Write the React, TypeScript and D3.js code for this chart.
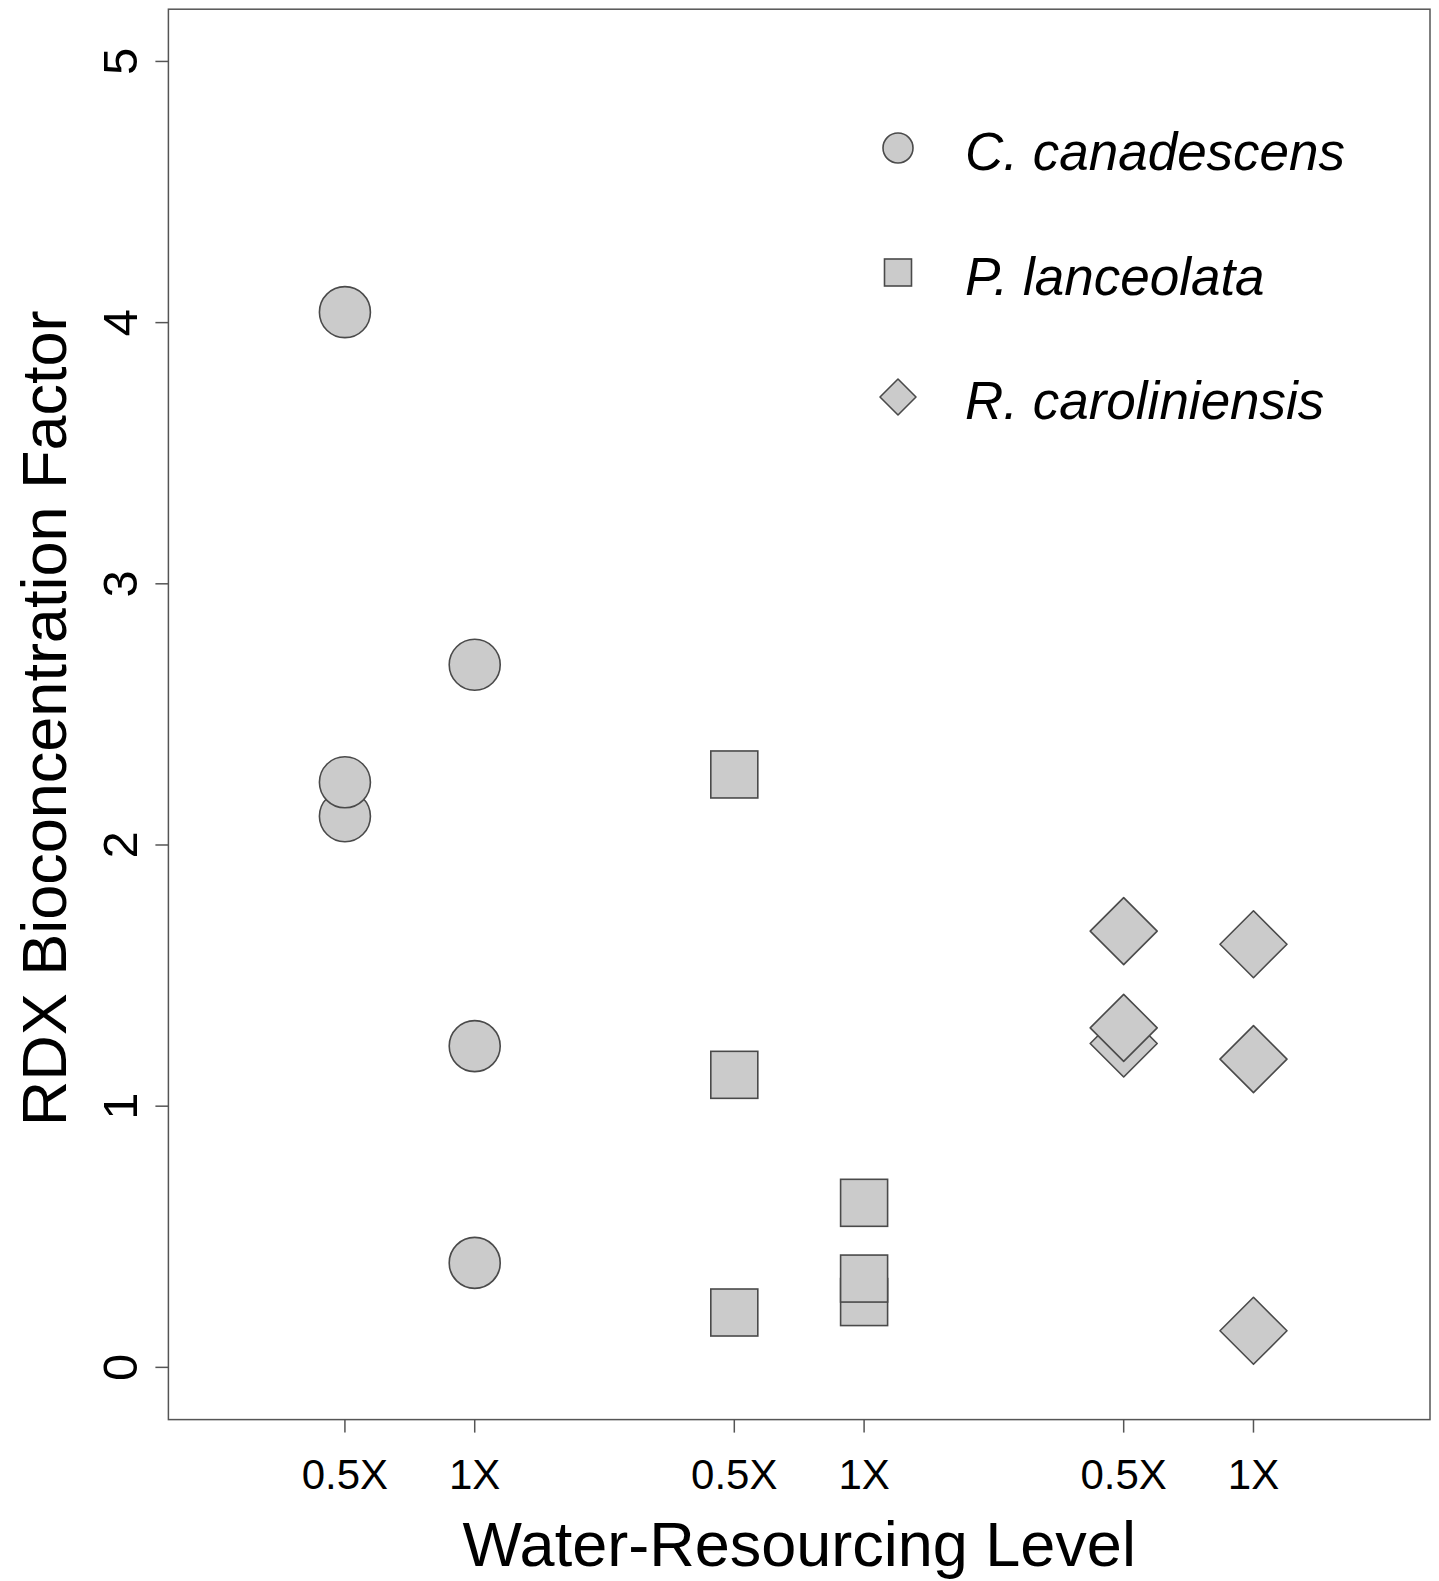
import React from 'react'
import * as d3 from 'd3'

// tick positions and labels along the x axis
const xPositions = [1, 2, 4, 5, 7, 8]
const xLabels = ['0.5X', '1X', '0.5X', '1X', '0.5X', '1X']
const yTicks = [0, 1, 2, 3, 4, 5]

// RDX bioconcentration factor
const canadescensHalf = [4.04, 2.11, 2.24]
const canadescensFull = [2.69, 1.23, 0.4]
const lanceolataHalf = [2.27, 1.12, 0.21]
const lanceolataFull = [0.63, 0.25, 0.34]
const caroliniensisHalf = [1.67, 1.24, 1.3]
const caroliniensisFull = [1.62, 1.18, 0.14]

const species = ['C. canadescens', 'P. lanceolata', 'R. caroliniensis']

const W = 1439
const H = 1581
const fill = '#cbcbcb'
const stroke = '#4a4a4a'
const font = 'Liberation Sans, Arial, Helvetica, sans-serif'

function Marker({shape, x, y, size}: {shape: string; x: number; y: number; size: number}) {
  if (shape === 'circle') return <circle cx={x} cy={y} r={size} fill={fill} stroke={stroke} strokeWidth={1.6} />
  if (shape === 'square')
    return <rect x={x - size} y={y - size} width={size * 2} height={size * 2} fill={fill} stroke={stroke} strokeWidth={1.6} />
  const d = `M${x},${y - size}L${x + size},${y}L${x},${y + size}L${x - size},${y}Z`
  return <path d={d} fill={fill} stroke={stroke} strokeWidth={1.6} strokeLinejoin="round" />
}

export default function App() {
  const x = d3.scaleLinear().domain([-0.36, 9.36]).range([168.4, 1430])
  const y = d3.scaleLinear().domain([-0.2, 5.2]).range([1419.6, 9.2])

  const groups = [
    {shape: 'circle', size: 25.5, pos: xPositions[0], vals: canadescensHalf},
    {shape: 'circle', size: 25.5, pos: xPositions[1], vals: canadescensFull},
    {shape: 'square', size: 23.5, pos: xPositions[2], vals: lanceolataHalf},
    {shape: 'square', size: 23.5, pos: xPositions[3], vals: lanceolataFull},
    {shape: 'diamond', size: 33.5, pos: xPositions[4], vals: caroliniensisHalf},
    {shape: 'diamond', size: 33.5, pos: xPositions[5], vals: caroliniensisFull},
  ]
  const legend = [
    {shape: 'circle', size: 15},
    {shape: 'square', size: 13.5},
    {shape: 'diamond', size: 18},
  ]
  const [x0, x1] = x.range()
  const [y0, y1] = y.range()

  return (
    <svg width={W} height={H} style={{position: 'absolute', left: 0, top: 0, background: '#fff'}} fontFamily={font}>
      <rect x={x0} y={y1} width={x1 - x0} height={y0 - y1} fill="none" stroke="#555" strokeWidth={1.5} />

      {/* y axis */}
      {yTicks.map((t) => (
        <g key={t}>
          <line x1={x0 - 13} x2={x0} y1={y(t)} y2={y(t)} stroke="#555" strokeWidth={1.5} />
          <text transform={`translate(137,${y(t)}) rotate(-90)`} textAnchor="middle" fontSize={49}>
            {t}
          </text>
        </g>
      ))}
      <text transform={`translate(66,${(y0 + y1) / 2 + 4}) rotate(-90)`} textAnchor="middle" fontSize={63}>
        RDX Bioconcentration Factor
      </text>

      {/* x axis */}
      {xPositions.map((p, i) => (
        <g key={i}>
          <line x1={x(p)} x2={x(p)} y1={y0} y2={y0 + 13} stroke="#555" strokeWidth={1.5} />
          <text x={x(p)} y={1489} textAnchor="middle" fontSize={42}>
            {xLabels[i]}
          </text>
        </g>
      ))}
      <text x={(x0 + x1) / 2} y={1566} textAnchor="middle" fontSize={63}>
        Water-Resourcing Level
      </text>

      {/* points */}
      {groups.map((g, gi) =>
        g.vals.map((v, vi) => <Marker key={`${gi}-${vi}`} shape={g.shape} x={x(g.pos)} y={y(v)} size={g.size} />),
      )}

      {/* legend */}
      {species.map((s, i) => (
        <g key={s}>
          <Marker shape={legend[i].shape} x={898} y={148 + i * 124.5} size={legend[i].size} />
          <text x={965} y={170 + i * 124.5} fontSize={53} fontStyle="italic">
            {s}
          </text>
        </g>
      ))}
    </svg>
  )
}
